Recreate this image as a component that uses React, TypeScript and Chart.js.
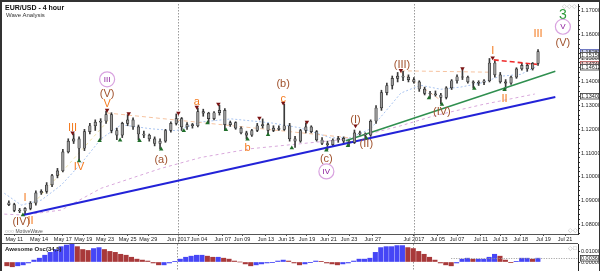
import { useEffect, useRef } from "react";
import { Chart, registerables } from "chart.js";
Chart.register(...registerables);

const FONT = "Liberation Sans";

// x axis: trading-day index (0 = May 11)
const tickLabels = ["May 11","May 14","May 17","May 19","May 23","May 25","May 29","Jun 2017","Jun 04","Jun 07","Jun 09","Jun 13","Jun 15","Jun 19","Jun 21","Jun 23","Jun 27","Jul 2017","Jul 05","Jul 07","Jul 11","Jul 13","Jul 18","Jul 19","Jul 21"];
const tickPos = [0,2.3,4.5,6.4,8.4,10.5,12.4,15.2,17.1,19.3,21.1,23.3,25.2,27.1,29.1,31.0,33.2,37.0,39.2,41.0,43.2,45.0,46.9,49.0,51.0];
const priceTicks = [1.08,1.09,1.10,1.11,1.12,1.13,1.14,1.15,1.16,1.17];
const aoTicks = [0, 0.01];

// half-day bars starting at day -0.5
const barStart = -0.5;
const barStep = 0.5;
const opens = [1.0890,1.0882,1.0858,1.0855,1.0866,1.0888,1.0932,1.0938,1.0965,1.1005,1.1025,1.1105,1.1150,1.1160,1.1120,1.1190,1.1215,1.1230,1.1235,1.1262,1.1195,1.1175,1.1225,1.1240,1.1210,1.1180,1.1175,1.1160,1.1140,1.1150,1.1195,1.1225,1.1245,1.1210,1.1220,1.1215,1.1275,1.1268,1.1245,1.1270,1.1280,1.1220,1.1228,1.1205,1.1185,1.1175,1.1195,1.1215,1.1220,1.1195,1.1205,1.1200,1.1215,1.1160,1.1150,1.1195,1.1210,1.1190,1.1155,1.1140,1.1135,1.1155,1.1162,1.1150,1.1145,1.1185,1.1180,1.1175,1.1235,1.1290,1.1355,1.1385,1.1415,1.1425,1.1420,1.1410,1.1400,1.1370,1.1352,1.1350,1.1345,1.1335,1.1375,1.1405,1.1422,1.1420,1.1400,1.1395,1.1398,1.1405,1.1480,1.1430,1.1400,1.1395,1.1420,1.1455,1.1470,1.1455,1.1478];
const highs = [1.0898,1.0888,1.0866,1.0870,1.0895,1.0940,1.0945,1.0975,1.1010,1.1035,1.1115,1.1160,1.1182,1.1168,1.1200,1.1225,1.1240,1.1245,1.1277,1.1270,1.1205,1.1230,1.1262,1.1248,1.1218,1.1192,1.1180,1.1168,1.1160,1.1200,1.1232,1.1265,1.1250,1.1228,1.1225,1.1290,1.1285,1.1272,1.1275,1.1302,1.1288,1.1235,1.1232,1.1210,1.1192,1.1200,1.1225,1.1244,1.1225,1.1215,1.1215,1.1307,1.1225,1.1170,1.1200,1.1227,1.1215,1.1195,1.1165,1.1150,1.1160,1.1170,1.1168,1.1158,1.1197,1.1192,1.1185,1.1240,1.1300,1.1365,1.1395,1.1425,1.1440,1.1445,1.1430,1.1418,1.1405,1.1378,1.1360,1.1362,1.1352,1.1380,1.1410,1.1430,1.1453,1.1425,1.1405,1.1405,1.1410,1.1499,1.1490,1.1440,1.1410,1.1425,1.1460,1.1478,1.1475,1.1482,1.1537];
const lows = [1.0878,1.0852,1.0848,1.0844,1.0860,1.0880,1.0925,1.0930,1.0958,1.0995,1.1020,1.1100,1.1140,1.1070,1.1110,1.1180,1.1195,1.1155,1.1225,1.1185,1.1156,1.1165,1.1215,1.1200,1.1155,1.1165,1.1150,1.1130,1.1118,1.1145,1.1188,1.1218,1.1195,1.1200,1.1205,1.1210,1.1255,1.1227,1.1240,1.1260,1.1198,1.1212,1.1200,1.1180,1.1160,1.1170,1.1190,1.1205,1.1177,1.1190,1.1195,1.1195,1.1150,1.1123,1.1145,1.1185,1.1185,1.1150,1.1135,1.1114,1.1130,1.1145,1.1140,1.1131,1.1140,1.1175,1.1164,1.1170,1.1225,1.1280,1.1345,1.1370,1.1400,1.1405,1.1400,1.1395,1.1360,1.1345,1.1332,1.1340,1.1307,1.1328,1.1368,1.1395,1.1410,1.1395,1.1374,1.1385,1.1388,1.1400,1.1420,1.1395,1.1369,1.1390,1.1415,1.1450,1.1445,1.1450,1.1470];
const closes = [1.0882,1.0858,1.0855,1.0866,1.0888,1.0932,1.0938,1.0965,1.1005,1.1025,1.1105,1.1150,1.1160,1.1120,1.1190,1.1215,1.1230,1.1235,1.1262,1.1195,1.1175,1.1225,1.1240,1.1210,1.1180,1.1175,1.1160,1.1140,1.1150,1.1195,1.1225,1.1245,1.1210,1.1220,1.1215,1.1275,1.1268,1.1245,1.1270,1.1280,1.1220,1.1228,1.1205,1.1185,1.1175,1.1195,1.1215,1.1220,1.1195,1.1205,1.1200,1.1215,1.1160,1.1150,1.1195,1.1210,1.1190,1.1155,1.1140,1.1135,1.1155,1.1162,1.1150,1.1145,1.1185,1.1180,1.1175,1.1235,1.1290,1.1355,1.1385,1.1415,1.1425,1.1420,1.1410,1.1400,1.1370,1.1352,1.1350,1.1345,1.1335,1.1375,1.1405,1.1422,1.1420,1.1400,1.1395,1.1398,1.1405,1.1480,1.1430,1.1400,1.1395,1.1420,1.1455,1.1470,1.1455,1.1478,1.1528];

const aoValues = [
-0.0036,-0.0045,-0.0036,-0.0027,-0.0009,0.0018,0.0036,0.0064,0.0091,0.0118,
0.0145,0.0160,0.0168,0.0145,0.0118,0.0109,0.0127,0.0136,0.0118,0.0100,
0.0091,0.0073,0.0064,0.0045,0.0027,0.0018,0.0009,-0.0009,-0.0027,-0.0027,
-0.0009,0.0003,0.0027,0.0045,0.0055,0.0064,0.0064,0.0055,0.0045,0.0045,
0.0036,0.0027,0.0009,0.0000,-0.0018,-0.0036,-0.0027,-0.0018,-0.0009,-0.0003,
0.0009,0.0018,0.0009,-0.0009,-0.0027,-0.0018,-0.0003,0.0009,0.0003,-0.0009,
-0.0018,-0.0027,-0.0018,-0.0009,0.0009,0.0027,0.0027,0.0036,0.0091,0.0136,
0.0145,0.0145,0.0155,0.0155,0.0136,0.0127,0.0100,0.0073,0.0045,0.0018,
-0.0009,-0.0027,-0.0036,-0.0009,0.0027,0.0036,0.0027,0.0027,0.0027,0.0045,
0.0073,0.0055,0.0018,-0.0003,0.0003,0.0036,0.0036,0.0027,0.0036];

// moving averages
const fastMaT = [-0.92,0.65,2.5,4.34,6.2,8.04,9.9,12.7,15.0,17.3,20.1,23.8,26.5,29.3,31.1,33.0,34.4,35.8,37.6,39.5,41.3,43.2,45.0,46.9,48.4];
const fastMaP = [1.0930,1.0880,1.0901,1.0964,1.1056,1.1160,1.1219,1.1202,1.1194,1.1231,1.1244,1.1227,1.1206,1.1164,1.1164,1.1202,1.1277,1.1353,1.1386,1.1369,1.1378,1.1395,1.1424,1.1432,1.1466];
const slowMaT = [-0.92,0.83,4.34,8.04,13.59,17.28,21.9,26.5,31.1,35.8,38.8,43.2,48.2];
const slowMaP = [1.0842,1.0838,1.0859,1.0951,1.1035,1.1081,1.1118,1.1139,1.1160,1.1215,1.1256,1.1303,1.1349];

// pivots
const pivotHighT = [5.4,8.6,10.6,15.2,16.9,18.9,22.7,24.9,27.1,31.6,35.8,41.5,44.3];
const pivotHighP = [1.1185,1.1281,1.1266,1.1269,1.1294,1.1307,1.1248,1.1311,1.1231,1.1215,1.1449,1.1457,1.1502];
const pivotLowT = [0.8,6.0,7.9,9.8,11.6,13.6,15.7,17.9,19.6,21.6,23.5,25.7,28.9,30.9,32.6,38.4,39.6,42.6,45.4];
const pivotLowP = [1.0838,1.1066,1.1152,1.1154,1.1152,1.1116,1.1194,1.1227,1.1198,1.1158,1.1177,1.1121,1.1112,1.1131,1.1162,1.1332,1.1305,1.1372,1.1367];

// trend lines [t, price]
const blueLine = [[0.83,1.0838],[50.1,1.1336]];
const greenLine = [[30.7,1.1152],[50.1,1.1445]];
const redLine = [[44.4,1.1493],[48.4,1.1474]];
const peachLines = [
  [[8.6,1.1269],[31.1,1.1164]],
  [[35.8,1.1447],[44.1,1.1441]],
  [[35.8,1.1441],[39.6,1.1319]],
];
const paleLine = [[1.8,1.0888],[9.0,1.1252]];

// wave labels
const waveLabels = [
  { t: 1.0, p: 1.0913, text: "I", kind: "minor" },
  { t: 1.5, p: 1.0817, text: "II", kind: "minor" },
  { t: 0.65, p: 1.0813, text: "(IV)", kind: "inter" },
  { t: 5.4, p: 1.1206, text: "III", kind: "minor" },
  { t: 6.0, p: 1.1043, text: "IV", kind: "minor" },
  { t: 8.6, p: 1.1307, text: "V", kind: "minor" },
  { t: 8.6, p: 1.1353, text: "(V)", kind: "inter" },
  { t: 8.6, p: 1.1411, text: "III", kind: "circle" },
  { t: 13.6, p: 1.1073, text: "(a)", kind: "inter" },
  { t: 16.9, p: 1.1319, text: "a", kind: "minor" },
  { t: 21.6, p: 1.1123, text: "b", kind: "minor" },
  { t: 24.9, p: 1.1332, text: "c", kind: "minor" },
  { t: 24.9, p: 1.1395, text: "(b)", kind: "inter" },
  { t: 28.9, p: 1.1077, text: "(c)", kind: "inter" },
  { t: 28.9, p: 1.1022, text: "IV", kind: "circle" },
  { t: 31.6, p: 1.1240, text: "(I)", kind: "inter" },
  { t: 32.6, p: 1.1139, text: "(II)", kind: "inter" },
  { t: 35.9, p: 1.1474, text: "(III)", kind: "inter" },
  { t: 39.6, p: 1.1277, text: "(IV)", kind: "inter" },
  { t: 44.3, p: 1.1533, text: "I", kind: "minor" },
  { t: 45.4, p: 1.1332, text: "II", kind: "minor" },
  { t: 48.5, p: 1.1603, text: "III", kind: "minor" },
  { t: 50.8, p: 1.1683, text: "3", kind: "primary" },
  { t: 50.8, p: 1.1633, text: "V", kind: "circle" },
  { t: 50.8, p: 1.1566, text: "(V)", kind: "inter" },
];

const priceMarkers = [
  { p: 1.15283, fill: "#cdd3f2", stroke: "#5a63b5" },
  { p: 1.15150, fill: "#ffffff", stroke: "#333333" },
  { p: 1.14740, fill: "#f2cfcf", stroke: "#b55a5a" },
  { p: 1.14612, fill: "#ffffff", stroke: "#333333" },
  { p: 1.13403, fill: "#ffffff", stroke: "#333333" },
];
const aoMarkers = [{ v: 0.0036 }];

const X_MIN = -0.95;
const X_MAX = 52.2;
const Y_MIN = 1.0758;
const Y_MAX = 1.1729;

const labelStyle: Record<string, { color: string; font: string }> = {
  minor: { color: "#f47b20", font: `11px ${FONT}` },
  inter: { color: "#a0522d", font: `11px ${FONT}` },
  circle: { color: "#8b1a9b", font: `8px ${FONT}` },
  primary: { color: "#2e9a3a", font: `14px ${FONT}` },
};

const monthLines = tickLabels
  .map((l, i) => (l.indexOf("2017") >= 0 ? tickPos[i] : null))
  .filter((v) => v !== null) as number[];

function pts(arr: number[][]) {
  return arr.map(([x, y]) => ({ x, y }));
}

function lineDs(data: any[], color: string, width: number, dash: number[] = [], order = 3) {
  return {
    type: "line" as const,
    data,
    borderColor: color,
    borderWidth: width,
    borderDash: dash,
    pointRadius: 0,
    fill: false,
    tension: 0,
    order,
  };
}

function fixX(s: any, h: number) {
  s.height = h;
  s.paddingLeft = 0;
  s.paddingRight = 0;
}
function fixY(s: any) {
  s.width = 22;
  s.paddingTop = 0;
  s.paddingBottom = 0;
}

export default function App() {
  const mainRef = useRef<HTMLCanvasElement>(null);
  const oscRef = useRef<HTMLCanvasElement>(null);

  useEffect(() => {
    const times = closes.map((_, i) => barStart + i * barStep);

    const monthPlugin = {
      id: "monthLines",
      beforeDatasetsDraw(chart: any) {
        const { ctx, scales } = chart;
        const a = chart.chartArea;
        ctx.save();
        ctx.strokeStyle = "#9a9a9a";
        ctx.lineWidth = 1;
        ctx.setLineDash([1.5, 1.5]);
        monthLines.forEach((v) => {
          const px = Math.round(scales.x.getPixelForValue(v)) + 0.5;
          ctx.beginPath();
          ctx.moveTo(px, a.top);
          ctx.lineTo(px, chart.height);
          ctx.stroke();
        });
        ctx.restore();
      },
    };

    const mainOverlay = {
      id: "mainOverlay",
      afterDraw(chart: any) {
        const { ctx, scales } = chart;
        const a = chart.chartArea;
        ctx.save();
        ctx.textAlign = "center";
        ctx.textBaseline = "middle";
        waveLabels.forEach((w) => {
          const px = scales.x.getPixelForValue(w.t);
          const py = scales.y.getPixelForValue(w.p);
          const st = labelStyle[w.kind];
          if (w.kind === "circle") {
            ctx.beginPath();
            ctx.arc(px, py, 7.5, 0, Math.PI * 2);
            ctx.fillStyle = "#ffffff";
            ctx.fill();
            ctx.strokeStyle = "#d9a3e0";
            ctx.lineWidth = 1.2;
            ctx.stroke();
          }
          ctx.font = st.font;
          ctx.fillStyle = st.color;
          ctx.fillText(w.text, px, py + 0.5);
        });
        ctx.font = `5.5px ${FONT}`;
        ctx.textAlign = "left";
        priceMarkers.forEach((m) => {
          const py = Math.round(scales.y.getPixelForValue(m.p));
          ctx.fillStyle = m.fill;
          ctx.strokeStyle = m.stroke;
          ctx.lineWidth = 0.8;
          ctx.fillRect(a.right + 2, py - 3, 19, 6);
          ctx.strokeRect(a.right + 2.5, py - 2.5, 18.5, 5.5);
          ctx.fillStyle = "#222";
          ctx.fillText(m.p.toFixed(5), a.right + 3, py + 0.5);
        });
        ctx.strokeStyle = "#555";
        ctx.lineWidth = 1;
        ctx.beginPath();
        ctx.moveTo(a.left, a.bottom + 0.5);
        ctx.lineTo(a.right, a.bottom + 0.5);
        ctx.stroke();
        ctx.restore();
      },
    };

    const bodyLo = opens.map((o, i) => Math.min(o, closes[i]));
    const bodyHi = opens.map((o, i) => Math.max(o, closes[i]));

    const main = new Chart(mainRef.current as HTMLCanvasElement, {
      type: "bar",
      data: {
        datasets: [
          {
            type: "line",
            data: pivotHighT.map((t, i) => ({ x: t, y: pivotHighP[i] })),
            showLine: false,
            pointStyle: "triangle",
            pointRadius: 2.6,
            pointRotation: 180,
            pointBackgroundColor: "#7a1212",
            pointBorderColor: "#7a1212",
            pointBorderWidth: 0,
            order: 0,
          } as any,
          {
            type: "line",
            data: pivotLowT.map((t, i) => ({ x: t, y: pivotLowP[i] })),
            showLine: false,
            pointStyle: "triangle",
            pointRadius: 2.6,
            pointBackgroundColor: "#1f6e2a",
            pointBorderColor: "#1f6e2a",
            pointBorderWidth: 0,
            order: 0,
          } as any,
          {
            type: "bar",
            data: times.map((t, i) => ({ x: t, y: [bodyLo[i], Math.max(bodyHi[i], bodyLo[i] + 0.00008)] })),
            backgroundColor: "#9a9a9a",
            borderColor: "#2a2a2a",
            borderWidth: 0.7,
            borderSkipped: false,
            barThickness: 2.6,
            grouped: false,
            order: 1,
          } as any,
          {
            type: "bar",
            data: times.map((t, i) => ({ x: t, y: [lows[i], highs[i]] })),
            backgroundColor: "#3a3a3a",
            barThickness: 1,
            grouped: false,
            order: 2,
          } as any,
          lineDs(pts(blueLine), "#2323d8", 2, [], 1.5),
          lineDs(pts(greenLine), "#2f8f4f", 1.5, [], 1.5),
          lineDs(pts(redLine), "#ee2a2a", 1.6, [5, 3], 0.5),
          ...peachLines.map((l) => lineDs(pts(l), "#f6c3a0", 1, [4, 3], 4)),
          lineDs(pts(paleLine), "#efe2a8", 1, [3, 3], 4),
          lineDs(fastMaT.map((t, i) => ({ x: t, y: fastMaP[i] })), "#a9c4f0", 1, [2, 2], 4),
          lineDs(slowMaT.map((t, i) => ({ x: t, y: slowMaP[i] })), "#d9a9dc", 1, [3, 3], 4),
        ] as any,
      },
      options: {
        animation: false,
        responsive: false,
        maintainAspectRatio: false,
        events: [],
        layout: { padding: { left: 2, top: 2, right: 0, bottom: 0 } },
        plugins: { legend: { display: false }, tooltip: { enabled: false } },
        scales: {
          x: {
            type: "linear",
            offset: false,
            min: X_MIN,
            max: X_MAX,
            afterFit: (s: any) => fixX(s, 9),
            afterBuildTicks: (s: any) => {
              s.ticks = tickPos.map((v) => ({ value: v }));
            },
            ticks: {
              autoSkip: false,
              maxRotation: 0,
              padding: 0,
              color: "#222",
              font: { size: 5.5, family: FONT },
              callback: (_v: any, i: number) => tickLabels[i],
            },
            grid: { offset: false, drawOnChartArea: false, tickLength: 2, color: "#555" },
            border: { display: true, color: "#555" },
          },
          y: {
            type: "linear",
            position: "right",
            min: Y_MIN,
            max: Y_MAX,
            afterFit: (s: any) => fixY(s),
            afterBuildTicks: (s: any) => {
              const t: any[] = [];
              for (let k = 538; k <= 586; k++) t.push({ value: k / 500 });
              s.ticks = t;
            },
            ticks: {
              autoSkip: false,
              padding: 1,
              color: "#222",
              font: { size: 5.5, family: FONT },
              callback: (v: any) => {
                const hit = priceTicks.find((p) => Math.abs(p - v) < 1e-7);
                return hit !== undefined ? hit.toFixed(5) : "";
              },
            },
            grid: { drawOnChartArea: false, tickLength: 2, color: "#333" },
            border: { display: true, color: "#222", width: 1 },
          },
        },
      },
      plugins: [monthPlugin, mainOverlay],
    } as any);

    const aoColors = aoValues.map((v, i) => (i > 0 && v >= aoValues[i - 1] ? "#4646f6" : "#a8393a"));

    const oscOverlay = {
      id: "oscOverlay",
      afterDraw(chart: any) {
        const { ctx, scales } = chart;
        const a = chart.chartArea;
        ctx.save();
        ctx.strokeStyle = "#555";
        ctx.lineWidth = 1;
        ctx.beginPath();
        ctx.moveTo(0, a.top - 0.5);
        ctx.lineTo(a.right, a.top - 0.5);
        ctx.stroke();
        ctx.font = `5.5px ${FONT}`;
        ctx.textBaseline = "middle";
        aoMarkers.forEach((m) => {
          const py = Math.round(scales.y.getPixelForValue(m.v));
          ctx.strokeStyle = "#999";
          ctx.setLineDash([1, 1.5]);
          ctx.beginPath();
          ctx.moveTo(scales.x.getPixelForValue(40.5), py + 0.5);
          ctx.lineTo(a.right, py + 0.5);
          ctx.stroke();
          ctx.setLineDash([]);
          ctx.fillStyle = "#fff";
          ctx.strokeStyle = "#333";
          ctx.lineWidth = 0.8;
          ctx.fillRect(a.right + 2, py - 3, 19, 6);
          ctx.strokeRect(a.right + 2.5, py - 2.5, 18.5, 5.5);
          ctx.fillStyle = "#222";
          ctx.fillText(m.v.toFixed(5), a.right + 3, py + 0.5);
        });
        ctx.restore();
      },
    };

    const osc = new Chart(oscRef.current as HTMLCanvasElement, {
      type: "bar",
      data: {
        datasets: [
          {
            data: times.map((t, i) => ({ x: t, y: aoValues[i] })),
            backgroundColor: aoColors,
            barThickness: 4.4,
            grouped: false,
          } as any,
        ],
      },
      options: {
        animation: false,
        responsive: false,
        maintainAspectRatio: false,
        events: [],
        layout: { padding: { left: 2, top: 1, right: 0, bottom: 0 } },
        plugins: { legend: { display: false }, tooltip: { enabled: false } },
        scales: {
          x: { type: "linear", offset: false, grid: { offset: false }, min: X_MIN, max: X_MAX, display: false },
          y: {
            type: "linear",
            position: "right",
            min: -0.0085,
            max: 0.017,
            afterFit: (s: any) => fixY(s),
            afterBuildTicks: (s: any) => {
              s.ticks = aoTicks.map((v) => ({ value: v }));
            },
            ticks: {
              autoSkip: false,
              padding: 1,
              color: "#222",
              font: { size: 5.5, family: FONT },
              callback: (v: any) => Number(v).toFixed(5),
            },
            grid: { drawOnChartArea: false, tickLength: 2, color: "#333" },
            border: { display: true, color: "#222", width: 1 },
          },
        },
      },
      plugins: [monthPlugin, oscOverlay],
    } as any);

    return () => {
      main.destroy();
      osc.destroy();
    };
  }, []);

  const small = { position: "absolute" as const, fontFamily: FONT, whiteSpace: "nowrap" as const, lineHeight: 1 };

  return (
    <div
      style={{
        position: "absolute",
        left: 0,
        top: 0,
        width: 600,
        height: 271,
        background: "#fff",
        overflow: "hidden",
        boxSizing: "border-box",
        borderLeft: "2px solid #333",
        borderTop: "2px solid #333",
        borderRight: "1px solid #333",
      }}
    >
      <canvas ref={mainRef} width={600} height={243} style={{ position: "absolute", left: -2, top: -2 }} />
      <canvas ref={oscRef} width={600} height={28} style={{ position: "absolute", left: -2, top: 241 }} />
      <div style={{ ...small, left: 3, top: 2, fontSize: 7, fontWeight: "bold", color: "#111" }}>EUR/USD - 4 hour</div>
      <div style={{ ...small, left: 4, top: 10, fontSize: 6, color: "#333" }}>Wave Analysis</div>
      <div style={{ ...small, left: 3, top: 227, fontSize: 5, color: "#555" }}>○○○ MotiveWave</div>
      <div style={{ ...small, left: 560, top: 1, fontSize: 6, color: "#aaa" }}>◇◇◇</div>
      <div style={{ ...small, left: 566, top: 225, fontSize: 6, color: "#aaa" }}>◇◇</div>
      <div style={{ ...small, left: 566, top: 243, fontSize: 6, color: "#aaa" }}>◇□</div>
      <div style={{ ...small, left: 3, top: 244, fontSize: 6, fontWeight: "bold", color: "#222" }}>Awesome Osc(34,5)</div>
    </div>
  );
}
